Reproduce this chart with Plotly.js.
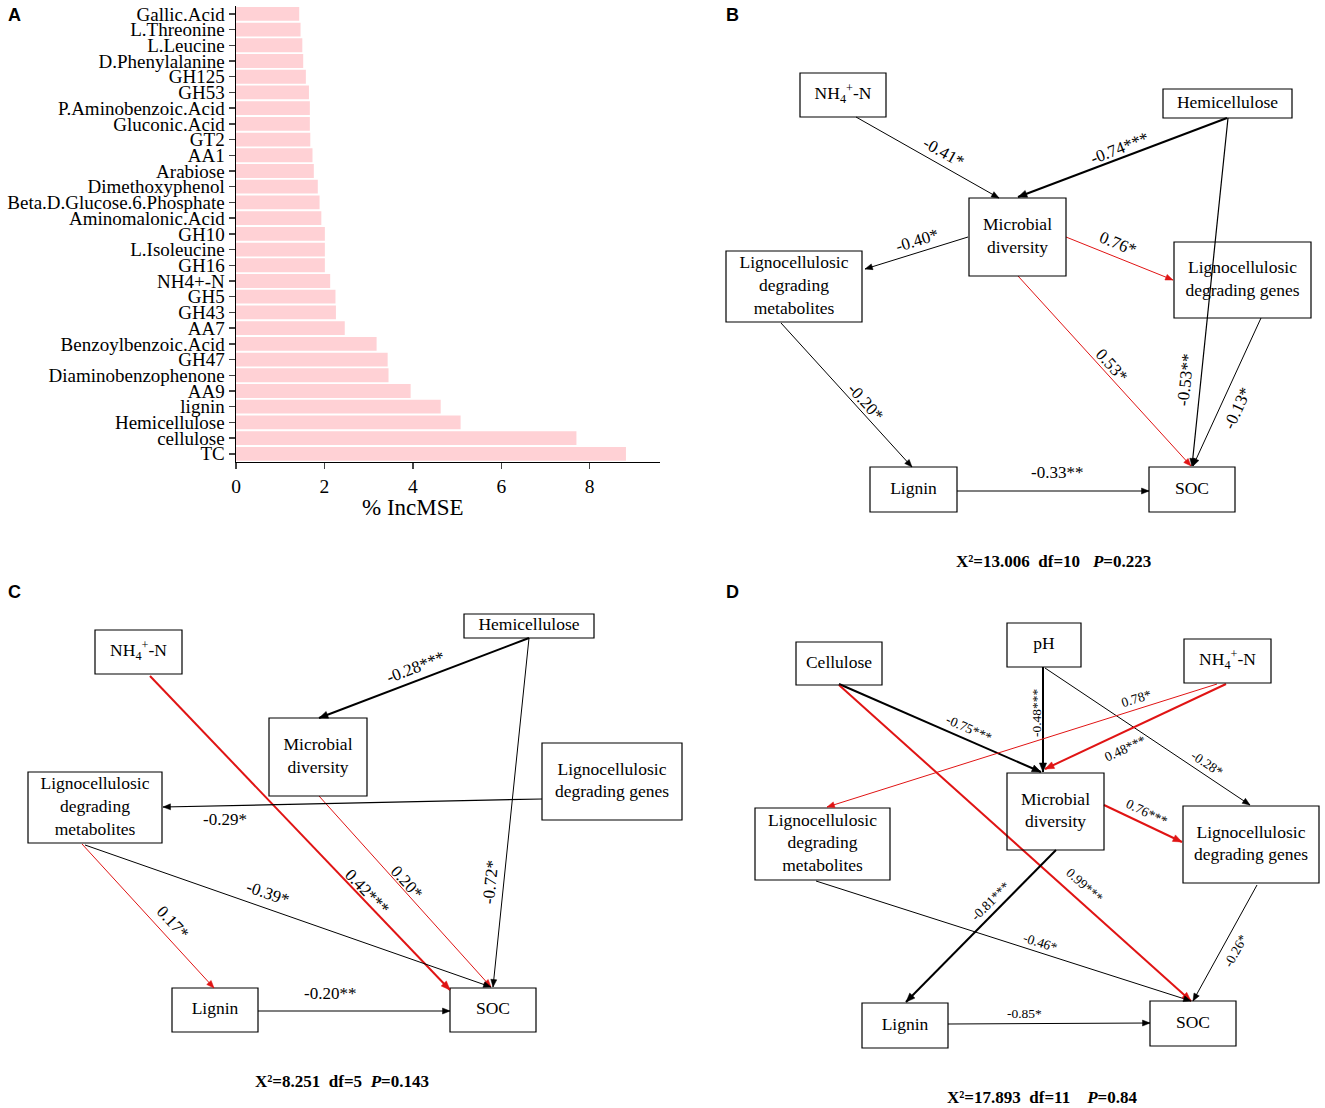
<!DOCTYPE html>
<html>
<head>
<meta charset="utf-8">
<script src="https://cdn.plot.ly/plotly-3.0.1.min.js"></script>
<style>html,body{margin:0;padding:0;background:#fff;}</style>
</head>
<body>
<div id="chart" style="width:1325px;height:1108px;"></div>
<script>
// ---------- Panel A data ----------
const categories = ["Gallic.Acid","L.Threonine","L.Leucine","D.Phenylalanine","GH125","GH53",
  "P.Aminobenzoic.Acid","Gluconic.Acid","GT2","AA1","Arabiose","Dimethoxyphenol",
  "Beta.D.Glucose.6.Phosphate","Aminomalonic.Acid","GH10","L.Isoleucine","GH16","NH4+-N",
  "GH5","GH43","AA7","Benzoylbenzoic.Acid","GH47","Diaminobenzophenone","AA9","lignin",
  "Hemicellulose","cellulose","TC"];
const incMSE = [1.43,1.46,1.50,1.52,1.58,1.65,1.67,1.67,1.68,1.73,1.76,1.85,1.89,1.93,
  2.01,2.01,2.01,2.13,2.25,2.26,2.46,3.18,3.43,3.45,3.95,4.63,5.08,7.70,8.82];
const xTicks = [0,2,4,6,8];
const xTitle = "% IncMSE";

// ---------- Path diagram content ----------
const NH4 = "NH<sub>4</sub><sup>+</sup>-N";
const MICRO = "Microbial<br>diversity";
const META = "Lignocellulosic<br>degrading<br>metabolites";
const GENES = "Lignocellulosic<br>degrading genes";

const nodeNamesB = [NH4, "Hemicellulose", MICRO, META, GENES, "Lignin", "SOC"];
const nodeNamesC = ["Hemicellulose", NH4, MICRO, GENES, META, "Lignin", "SOC"];
const nodeNamesD = ["Cellulose", "pH", NH4, MICRO, META, GENES, "Lignin", "SOC"];

const coefB = ["-0.41*","-0.74***","-0.40*","0.76*","0.53*","-0.53**","-0.13*","-0.20*","-0.33**"];
const coefC = ["-0.28***","-0.72*","0.42***","0.20*","-0.29*","0.17*","-0.39*","-0.20**"];
const coefD = ["-0.75***","0.99***","-0.48***","-0.28*","0.78*","0.48***","0.76***","-0.81***","-0.46*","-0.26*","-0.85*"];
const signB = ["-","-","-","+","+","-","-","-","-"];
const signC = ["-","-","+","+","-","+","-","-"];
const signD = ["-","+","-","-","+","+","+","-","-","-","-"];

const statsB = "X²=13.006\u00a0\u00a0df=10\u00a0\u00a0\u00a0<i>P</i>=0.223";
const statsC = "X²=8.251\u00a0\u00a0df=5\u00a0\u00a0<i>P</i>=0.143";
const statsD = "X²=17.893\u00a0\u00a0df=11\u00a0\u00a0\u00a0\u00a0<i>P</i>=0.84";

// ---------- Diagram layout geometry (pixel frame) ----------
const boxesB = [[800,886,73,117],[1163,1292,89,118],[969,1066,198,276],[726,862,251,322],[1174,1311,242,318],[870,957,467,512],[1149,1235,467,512]];
const boxesC = [[464,594,614,638],[95,182,630,674],[269,367,718,796],[542,682,743,820],[28,162,772,843],[172,258,988,1032],[450,536,988,1032]];
const boxesD = [[796,882,642,685],[1007,1081,623,667],[1184,1271,639,683],[1007,1104,773,850],[755,890,808,880],[1183,1319,806,883],[862,948,1003,1048],[1150,1236,1001,1046]];

// tailX, tailY, headX, headY, width, labelX, labelY, angle
const edgesB = [[856,117,999,198,1,944,152,29],[1227,118,1018,197,2,1119,148,-21],[968,237,865,269,1,917,240,-17],
  [1066,237,1173,280,1,1118,243,22],[1018,276,1191,466,1,1112,365,48],[1228,118,1192,466,1.2,1185,380,-84],
  [1261,318,1193,466,1,1237,408,-65],[781,323,912,467,1,866,402,48],[957,491,1149,491,1.2,1057,472,0]];
const edgesC = [[529,638,319,718,2,415,667,-21],[529,638,493,987,1,490,882,-84],[150,676,450,990,2,367,891,46],
  [319,796,491,987,1,407,882,48],[542,799,163,807,1.2,225,819,0],[82,844,214,988,1,173,922,47],
  [85,845,491,987,1,268,893,19],[258,1011,450,1011,1.2,330,993,0]];
const edgesD = [[839,684,1041,772,2,969,728,24],[839,685,1191,1001,2,1085,885,42],[1043,667,1043,772,2,1036,713,-90],
  [1045,668,1250,805,1,1207,763,34],[1217,684,827,807,1,1136,698,-17],[1226,684,1045,769,2,1125,748,-25],
  [1104,805,1182,842,2,1147,812,26],[1056,850,906,1002,2,990,901,-45],[816,881,1191,1001,1,1040,942,18],
  [1257,885,1193,1001,1,1235,951,-61],[948,1024,1150,1023,1,1024,1013,0]];

const SERIF = "Liberation Serif, Times New Roman, serif";
const W = 1325, H = 1108;

const shapes = [];
const annotations = [];
const traces = [
  {type:'bar', orientation:'h', x:incMSE, y:categories, xaxis:'x', yaxis:'y', width:0.88,
   marker:{color:'#ffd1d5', line:{width:0}}, hoverinfo:'skip'}
];
const nodeX = [], nodeY = [], nodeT = [];

function addNodes(boxes, names){
  boxes.forEach((b,i)=>{
    shapes.push({type:'rect', xref:'x2', yref:'y2', x0:b[0], x1:b[1], y0:b[2], y1:b[3],
      line:{color:'#000', width:1.2}, fillcolor:'rgba(0,0,0,0)', layer:'above'});
    nodeX.push((b[0]+b[1])/2); nodeY.push((b[2]+b[3])/2); nodeT.push(names[i]);
  });
}
function addEdges(edges, coefs, signs, fs){
  edges.forEach((e,i)=>{
    const col = signs[i]==='+' ? '#e01414' : '#000000';
    const w = e[4];
    traces.push({type:'scatter', mode:'lines', x:[e[0],e[2]], y:[e[1],e[3]], xaxis:'x2', yaxis:'y2',
      line:{color:col, width:w}, hoverinfo:'skip'});
    const dx = e[2]-e[0], dy = e[3]-e[1], L = Math.hypot(dx,dy);
    const ux = dx/L, uy = dy/L;
    const hl = w>=2 ? 9 : 7.5, hw = w>=2 ? 3.6 : 3;
    const bx = e[2]-ux*hl, by = e[3]-uy*hl;
    const p1x = bx - uy*hw, p1y = by + ux*hw, p2x = bx + uy*hw, p2y = by - ux*hw;
    shapes.push({type:'path', xref:'x2', yref:'y2',
      path:`M${e[2]},${e[3]} L${p1x},${p1y} L${p2x},${p2y} Z`, fillcolor:col, line:{color:col, width:0.5}});
    annotations.push({xref:'x2', yref:'y2', x:e[5], y:e[6], text:coefs[i], showarrow:false,
      textangle:e[7], font:{family:SERIF, size:fs, color:'#000'}});
  });
}
addNodes(boxesB, nodeNamesB); addNodes(boxesC, nodeNamesC); addNodes(boxesD, nodeNamesD);
addEdges(edgesB, coefB, signB, 17); addEdges(edgesC, coefC, signC, 17); addEdges(edgesD, coefD, signD, 13.5);

traces.push({type:'scatter', mode:'text', x:nodeX, y:nodeY, text:nodeT, xaxis:'x2', yaxis:'y2',
   textposition:'middle center', textfont:{family:SERIF, size:17.5, color:'#000'}, hoverinfo:'skip'});

// x-axis title of panel A (centred under tick 4 as in the original)
annotations.push({xref:'x', yref:'y2', x:4, y:507, text:xTitle, showarrow:false,
  font:{family:SERIF, size:23, color:'#000'}});

// stats lines
[[statsB,1053,561],[statsC,342,1081],[statsD,1042,1097]].forEach(s=>{
  annotations.push({xref:'x2', yref:'y2', x:s[1], y:s[2], text:'<b>'+s[0]+'</b>', showarrow:false,
    font:{family:SERIF, size:17, color:'#000'}});
});
// panel letters
[["A",14,15],["B",732,15],["C",14,592],["D",732,592]].forEach(p=>{
  annotations.push({xref:'x2', yref:'y2', x:p[1], y:p[2], text:'<b>'+p[0]+'</b>', showarrow:false,
    font:{family:'Liberation Sans, Arial, sans-serif', size:18, color:'#000'}});
});

const layout = {
  width:W, height:H, margin:{l:0,r:0,t:0,b:0}, paper_bgcolor:'#fff', plot_bgcolor:'rgba(0,0,0,0)',
  showlegend:false,
  xaxis:{domain:[236/W, 660/W], range:[0,9.59], tickvals:xTicks, ticks:'outside', ticklen:6, tickwidth:1.5,
    showline:true, linewidth:1.5, linecolor:'#000', showgrid:false, zeroline:false, anchor:'y',
    tickfont:{family:SERIF, size:19.5, color:'#000'}},
  yaxis:{domain:[1-461.7/H, 1-6/H], type:'category', range:[28.5,-0.5], tickmode:'array',
    tickvals:categories, ticktext:categories, ticks:'outside', ticklen:6, tickwidth:1.5,
    showline:true, linewidth:1.5, linecolor:'#000', showgrid:false, zeroline:false, anchor:'x',
    tickfont:{family:SERIF, size:19, color:'#000'}},
  xaxis2:{domain:[0,1], range:[0,W], visible:false, anchor:'y2', fixedrange:true},
  yaxis2:{domain:[0,1], range:[H,0], visible:false, anchor:'x2', fixedrange:true},
  shapes:shapes, annotations:annotations
};

Plotly.newPlot('chart', traces, layout, {staticPlot:true, displayModeBar:false});
</script>
</body>
</html>
